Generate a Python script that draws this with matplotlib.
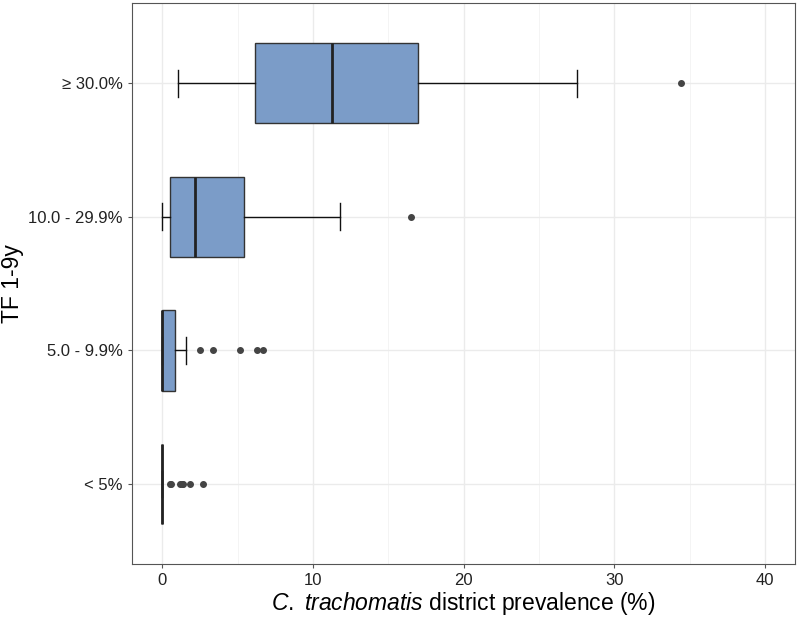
import matplotlib.pyplot as plt

plt.rcParams['font.family'] = ['Liberation Sans', 'DejaVu Sans']
plt.rcParams['mathtext.fontset'] = 'custom'
plt.rcParams['mathtext.it'] = 'Liberation Sans:italic'
plt.rcParams['mathtext.rm'] = 'Liberation Sans'

# categories, bottom to top
categories = ['< 5%', '5.0 - 9.9%', '10.0 - 29.9%', '\u2265 30.0%']

# box statistics (% prevalence)
q1 = [0.0, 0.0, 0.55, 6.15]
medians = [0.0, 0.0, 2.15, 11.25]
q3 = [0.0, 0.87, 5.4, 16.95]
whisker_lo = [0.0, 0.0, 0.0, 1.02]
whisker_hi = [0.0, 1.57, 11.78, 27.55]
outliers = [
    [0.5, 0.6, 1.2, 1.3, 1.4, 1.85, 2.72],
    [2.5, 3.38, 5.18, 6.26, 6.72],
    [16.5],
    [34.4],
]

stats = []
for i, cat in enumerate(categories):
    stats.append({
        'label': cat,
        'q1': q1[i], 'med': medians[i], 'q3': q3[i],
        'whislo': whisker_lo[i], 'whishi': whisker_hi[i],
        'fliers': outliers[i],
    })

fig = plt.figure(figsize=(8, 6.18), dpi=100)
ax = fig.add_axes([0.165, 0.087, 0.829, 0.908])

edge = '#333333'
ax.bxp(stats, positions=[1, 2, 3, 4], orientation='horizontal', widths=0.6,
       patch_artist=True, capwidths=0.2,
       boxprops=dict(facecolor='#7b9cc8', edgecolor=edge, linewidth=1.0),
       medianprops=dict(color='#222222', linewidth=2.0),
       whiskerprops=dict(color='#111111', linewidth=1.0),
       capprops=dict(color='#111111', linewidth=1.0),
       flierprops=dict(marker='o', markersize=4, markerfacecolor='#444444',
                       markeredgecolor='#444444'),
       zorder=3)

ax.set_xlim(-2, 42)
ax.set_ylim(0.4, 4.6)
ax.set_xticks([0, 10, 20, 30, 40])
ax.set_xticks([5, 15, 25, 35], minor=True)
ax.set_yticks([1, 2, 3, 4])
ax.set_yticklabels(categories)

ax.grid(True, which='major', color='#ebebeb', linewidth=1.0, zorder=0)
ax.grid(True, which='minor', axis='x', color='#f3f3f3', linewidth=0.6, zorder=0)
ax.set_axisbelow(True)

for s in ax.spines.values():
    s.set_color('#555555')
    s.set_linewidth(0.8)
ax.tick_params(which='major', length=3, color='#555555', labelsize=12,
               labelcolor='#222222')
ax.tick_params(which='minor', length=0)

ax.set_xlabel('$\\mathit{C.\\ trachomatis}$ district prevalence (%)', fontsize=16.5,
              labelpad=1)
# y label placed on the figure so it is not clipped
fig.text(13 / 800, 0.087 + 0.908 / 2, 'TF 1-9y', fontsize=16.5, rotation=90,
         ha='center', va='center')

plt.savefig('out.png', dpi=100)
